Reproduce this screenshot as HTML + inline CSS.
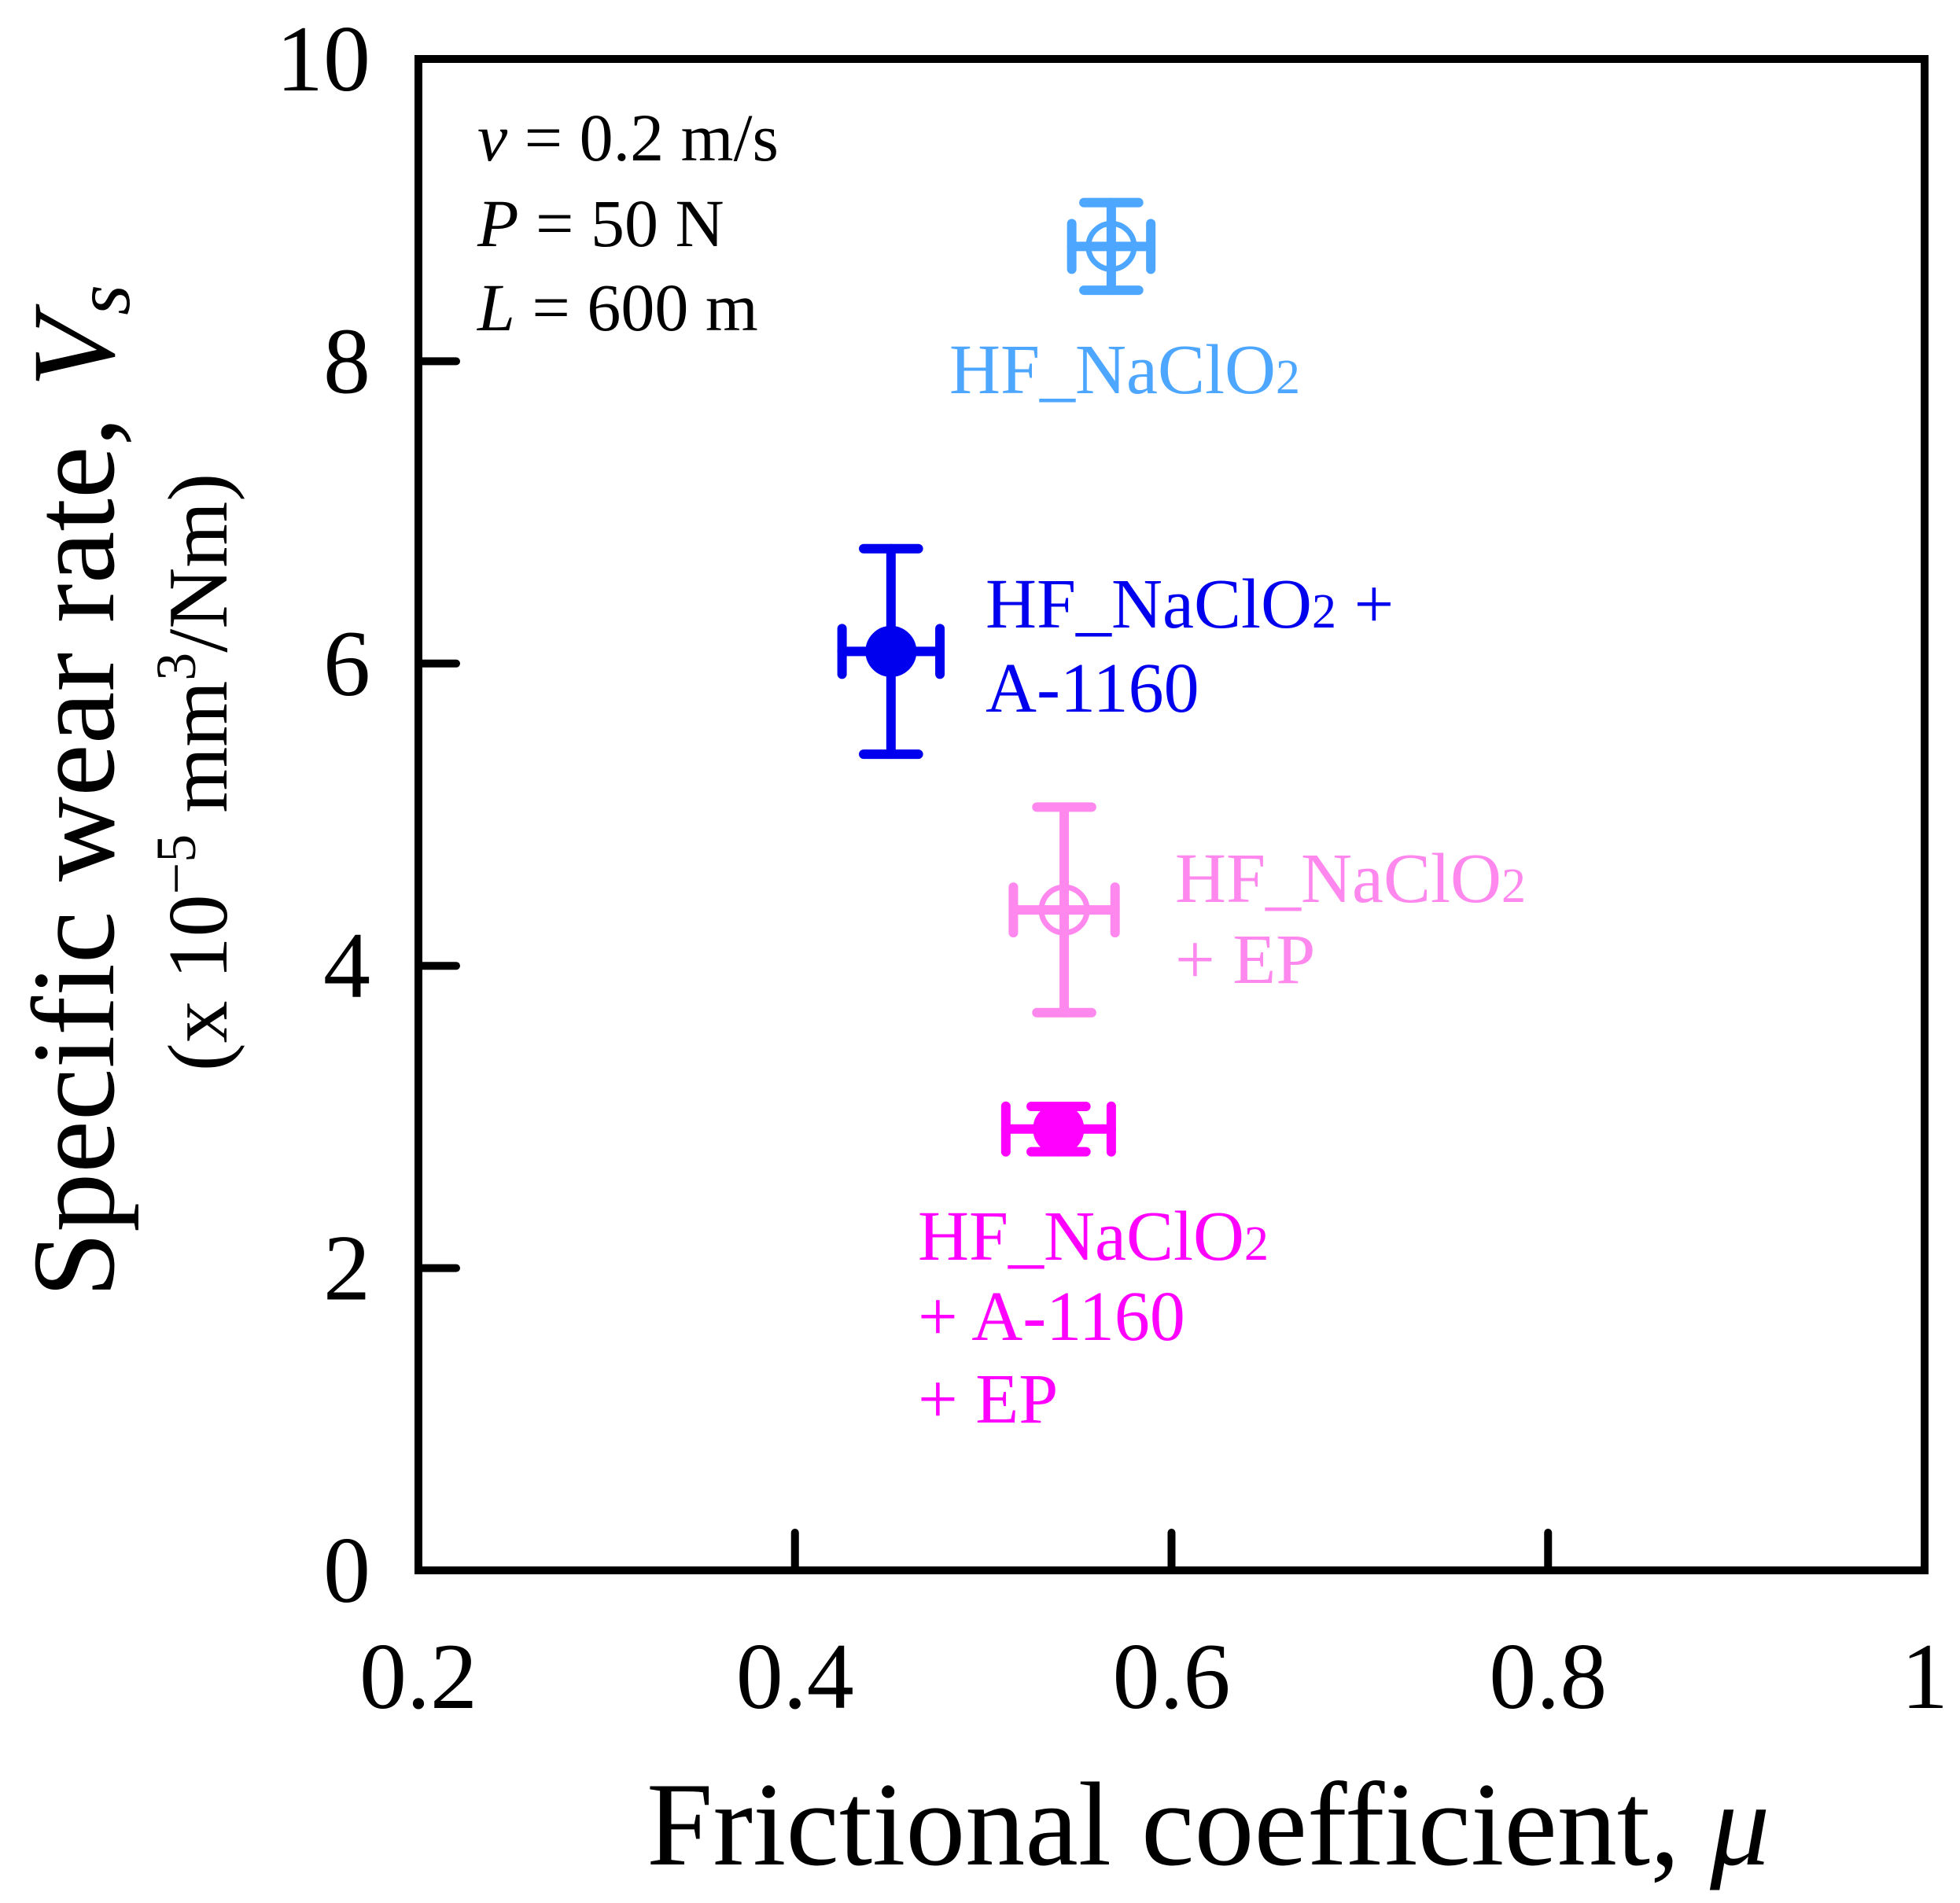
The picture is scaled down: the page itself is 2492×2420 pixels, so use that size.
<!DOCTYPE html>
<html><head><meta charset="utf-8"><style>
html,body{margin:0;padding:0;background:#fff;}
svg{display:block;font-family:"Liberation Serif",serif;}
</style></head><body>
<svg id="chart" width="2492" height="2420" viewBox="0 0 2492 2420">
<rect x="0" y="0" width="2492" height="2420" fill="#fff"/>
<g id="marks"></g>
<rect x="532" y="75" width="1915" height="1922" fill="none" stroke="#000" stroke-width="10"/>
<g id="axes"></g>
<g font-size="86">
<text x="607" y="204"><tspan font-style="italic">v</tspan> = 0.2 m/s</text>
<text x="607" y="313"><tspan font-style="italic">P</tspan> = 50 N</text>
<text x="607" y="420"><tspan font-style="italic">L</tspan> = 600 m</text>
</g>
<g font-size="90">
<text x="1207" y="500" fill="#4da6ff">HF_NaClO<tspan font-size="62">2</tspan></text>
<text x="1253" y="798" fill="#0000ee">HF_NaClO<tspan font-size="62">2</tspan> +</text>
<text x="1253" y="905" fill="#0000ee">A-1160</text>
<text x="1494" y="1147" fill="#ff88ee">HF_NaClO<tspan font-size="62">2</tspan></text>
<text x="1494" y="1250" fill="#ff88ee">+ EP</text>
<text x="1167" y="1602" fill="#ff00ff">HF_NaClO<tspan font-size="62">2</tspan></text>
<text x="1167" y="1704" fill="#ff00ff">+ A-1160</text>
<text x="1167" y="1809" fill="#ff00ff">+ EP</text>
</g>
<text x="822" y="2371" font-size="152">Frictional coefficient, <tspan font-style="italic">μ</tspan></text>
<text transform="translate(144,1006) rotate(-90)" text-anchor="middle" font-size="150">Specific wear rate, <tspan font-style="italic">V<tspan font-size="100" dy="20">s</tspan></tspan></text>
<text transform="translate(288,982) rotate(-90)" text-anchor="middle" font-size="108">(x 10<tspan font-size="72" dy="-40">−5</tspan><tspan dy="40"> mm</tspan><tspan font-size="72" dy="-40">3</tspan><tspan dy="40">/Nm)</tspan></text>
</svg>
<script>
const seriesNames = ["HF_NaClO2", "HF_NaClO2 + A-1160", "HF_NaClO2 + EP", "HF_NaClO2 + A-1160 + EP"];
const muValues = [0.568, 0.451, 0.543, 0.540];
const muErr = [0.021, 0.026, 0.027, 0.028];
const wearValues = [8.76, 6.08, 4.37, 2.92];
const wearErr = [0.29, 0.68, 0.68, 0.15];
const xTicks = [0.2, 0.4, 0.6, 0.8, 1];
const xTickLabels = ["0.2", "0.4", "0.6", "0.8", "1"];
const yTicks = [0, 2, 4, 6, 8, 10];
const yTickLabels = ["0", "2", "4", "6", "8", "10"];

const colors = ["#4da6ff", "#0000ee", "#ff88ee", "#ff00ff"];
const filled = [false, true, false, true];
const L = 532, R = 2447, T = 75, B = 1997;
const xs = v => L + (v - 0.2) / 0.8 * (R - L);
const ys = v => B - v / 10 * (B - T);
const NS = "http://www.w3.org/2000/svg";
function mk(tag, attrs, parent) {
  const e = document.createElementNS(NS, tag);
  for (const k in attrs) e.setAttribute(k, attrs[k]);
  parent.appendChild(e);
  return e;
}
const axes = document.getElementById('axes');
xTicks.forEach((t, i) => {
  const x = xs(t);
  if (i > 0 && i < xTicks.length - 1) {
    const tk = mk('line', {x1: x, x2: x, y1: B, y2: B - 48, stroke: '#000', 'stroke-width': 10, 'stroke-linecap': 'round'}, axes);
    
    
  }
  const lb = mk('text', {x: x, y: 2172, 'text-anchor': 'middle', 'font-size': 120}, axes);
  lb.textContent = xTickLabels[i];
  
  
});
yTicks.forEach((t, i) => {
  const y = ys(t);
  if (i > 0 && i < yTicks.length - 1) {
    const tk = mk('line', {x1: L, x2: L + 48, y1: y, y2: y, stroke: '#000', 'stroke-width': 10, 'stroke-linecap': 'round'}, axes);
    
    
  }
  const lb = mk('text', {x: 471, y: y + 40, 'text-anchor': 'end', 'font-size': 120}, axes);
  lb.textContent = yTickLabels[i];
  
  
});
const marks = document.getElementById('marks');
seriesNames.forEach((n, i) => {
  const g = mk('g', {stroke: colors[i], 'stroke-width': 12, 'stroke-linecap': 'round', fill: 'none'}, marks);
  
  
  const cx = xs(muValues[i]), cy = ys(wearValues[i]);
  const x0 = xs(muValues[i] - muErr[i]), x1 = xs(muValues[i] + muErr[i]);
  const y0 = ys(wearValues[i] - wearErr[i]), y1 = ys(wearValues[i] + wearErr[i]);
  const cap = 29;
  mk('line', {x1: x0, x2: x1, y1: cy, y2: cy}, g);
  mk('line', {x1: cx, x2: cx, y1: y0, y2: y1}, g);
  mk('line', {x1: x0, x2: x0, y1: cy - cap, y2: cy + cap}, g);
  mk('line', {x1: x1, x2: x1, y1: cy - cap, y2: cy + cap}, g);
  mk('line', {x1: cx - cap * 1.2, x2: cx + cap * 1.2, y1: y0, y2: y0}, g);
  mk('line', {x1: cx - cap * 1.2, x2: cx + cap * 1.2, y1: y1, y2: y1}, g);
  mk('circle', {cx: cx, cy: cy, r: 29, fill: filled[i] ? colors[i] : 'none', 'stroke-width': 7}, g);
});
</script>
</body></html>
